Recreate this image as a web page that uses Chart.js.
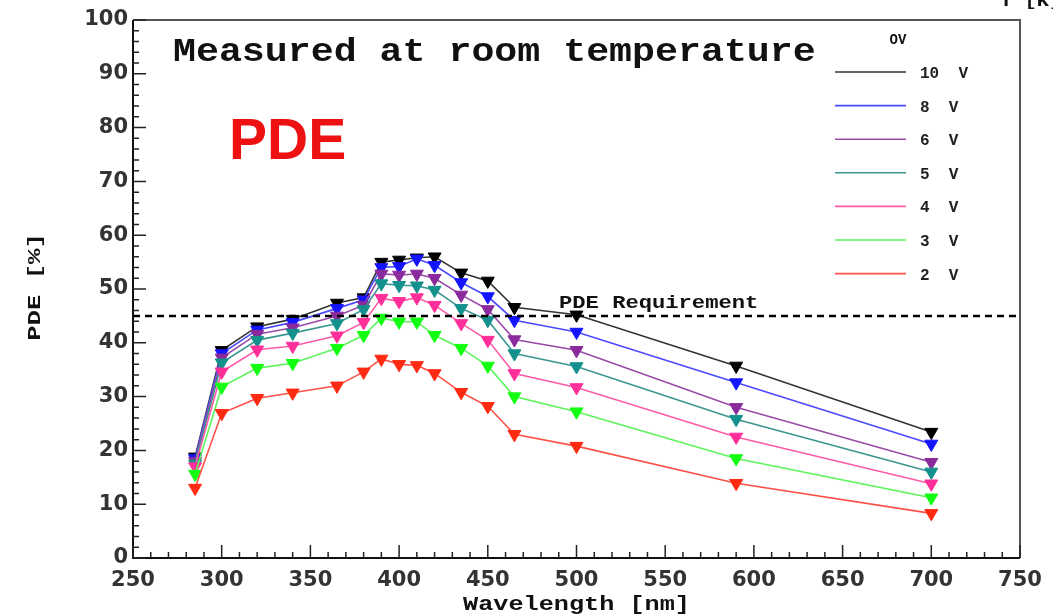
<!DOCTYPE html>
<html>
<head>
<meta charset="utf-8">
<title>PDE vs wavelength</title>
<script src="https://cdn.jsdelivr.net/npm/chart.js@4.4.1/dist/chart.umd.min.js"></script>
<style>
  html, body { margin: 0; padding: 0; background: #fff; }
  #wrap { width: 1053px; height: 615px; }
</style>
</head>
<body>
<div id="wrap"><canvas id="pdeChart" width="1053" height="615"></canvas></div>
<script>
// === Data ===
const wavelengths = [285, 300, 320, 340, 365, 380, 390, 400, 410, 420, 435, 450, 465, 500, 590, 700];

const pde10V = [18.8, 38.6, 43.0, 44.4, 47.4, 48.4, 55.0, 55.4, 55.8, 56.0, 53.0, 51.5, 46.6, 45.2, 35.7, 23.4];
const pde8V  = [18.5, 38.0, 42.4, 43.8, 46.4, 48.0, 54.0, 54.2, 55.6, 54.4, 51.2, 48.6, 44.2, 42.0, 32.6, 21.2];
const pde6V  = [18.0, 37.2, 41.6, 42.8, 45.0, 47.0, 52.8, 52.6, 52.8, 52.0, 48.9, 46.2, 40.6, 38.6, 28.0, 17.8];
const pde5V  = [17.5, 36.3, 40.5, 41.8, 43.6, 46.2, 51.0, 50.7, 50.6, 49.8, 46.4, 44.2, 38.0, 35.6, 25.8, 16.0];
const pde4V  = [17.0, 34.6, 38.7, 39.4, 41.3, 43.8, 48.3, 47.7, 48.4, 47.0, 43.6, 40.5, 34.3, 31.7, 22.5, 13.8];
const pde3V  = [15.6, 31.8, 35.3, 36.2, 39.0, 41.4, 44.6, 43.9, 43.9, 41.4, 39.0, 35.7, 30.0, 27.2, 18.5, 11.2];
const pde2V  = [13.0, 26.9, 29.7, 30.7, 32.0, 34.6, 37.0, 36.0, 35.8, 34.3, 30.8, 28.2, 23.0, 20.8, 13.9, 8.3];

const overVoltages = ["10 V", "8 V", "6 V", "5 V", "4 V", "3 V", "2 V"];
const seriesValues = [pde10V, pde8V, pde6V, pde5V, pde4V, pde3V, pde2V];

const requirementX = [250, 750];
const requirementY = [45, 45];

const xTicks = [250, 300, 350, 400, 450, 500, 550, 600, 650, 700, 750];
const yTicks = [0, 10, 20, 30, 40, 50, 60, 70, 80, 90, 100];

// ROOT-ish colours: marker / line
const markerColors = ["#000000", "#1414ff", "#8a2a9c", "#14918c", "#ff2f9a", "#12ff12", "#ff2a12"];
const lineColors   = ["#333333", "#4a4aff", "#9a4aa8", "#3a9690", "#ff5aa8", "#5cf55c", "#ff5048"];

const MONO = "'Liberation Mono', 'DejaVu Sans Mono', monospace";

// === Build datasets ===
const datasets = seriesValues.map((vals, i) => ({
  label: overVoltages[i],
  data: wavelengths.map((w, k) => ({ x: w, y: vals[k] })),
  borderColor: lineColors[i],
  backgroundColor: markerColors[i],
  pointBackgroundColor: markerColors[i],
  pointBorderColor: markerColors[i],
  borderWidth: 1.6,
  pointStyle: "triangle",
  pointRotation: 180,
  pointRadius: 7.5,
  pointBorderWidth: 1,
  tension: 0,
  order: seriesValues.length - i
}));

datasets.push({
  label: "PDE Requirement",
  data: requirementX.map((x, k) => ({ x, y: requirementY[k] })),
  borderColor: "#000",
  borderWidth: 2.5,
  borderDash: [7, 5],
  pointRadius: 0,
  order: 0
});

// stretched text helper (the original figure is wider than tall)
function wideText(ctx, txt, x, y, sx, rot) {
  ctx.save();
  ctx.translate(x, y);
  if (rot) ctx.rotate(rot);
  ctx.scale(sx, 1);
  ctx.fillText(txt, 0, 0);
  ctx.restore();
}

// === Frame, inner ticks, texts, legend ===
const rootDecor = {
  id: "rootDecor",
  afterDraw(chart) {
    const { ctx, chartArea: a, scales } = chart;
    const xs = scales.x, ys = scales.y;
    ctx.save();

    // frame
    ctx.strokeStyle = "#555";
    ctx.lineWidth = 2;
    ctx.beginPath();
    ctx.moveTo(a.left, a.top); ctx.lineTo(a.right, a.top); ctx.lineTo(a.right, a.bottom);
    ctx.stroke();
    ctx.strokeStyle = "#111";
    ctx.beginPath();
    ctx.moveTo(a.left, a.top); ctx.lineTo(a.left, a.bottom); ctx.lineTo(a.right, a.bottom);
    ctx.stroke();

    // inner ticks
    ctx.lineWidth = 1.5;
    ctx.strokeStyle = "#222";
    ctx.beginPath();
    for (let v = 250; v <= 750; v += 10) {
      const px = xs.getPixelForValue(v);
      const len = v % 50 === 0 ? 13 : 6;
      ctx.moveTo(px, a.bottom); ctx.lineTo(px, a.bottom - len);
    }
    for (let v = 0; v <= 100; v += 2) {
      const py = ys.getPixelForValue(v);
      const len = v % 10 === 0 ? 13 : 6;
      ctx.moveTo(a.left, py); ctx.lineTo(a.left + len, py);
    }
    ctx.stroke();

    ctx.fillStyle = "#111";
    ctx.textBaseline = "alphabetic";
    ctx.textAlign = "left";

    // big caption
    ctx.font = "bold 34px " + MONO;
    wideText(ctx, "Measured at room temperature", 173, 61, 1.125);

    // red PDE
    ctx.font = "bold 57px 'Liberation Sans', Arial, sans-serif";
    ctx.fillStyle = "#ee1111";
    ctx.fillText("PDE", 229, 159);

    // requirement label
    ctx.fillStyle = "#111";
    ctx.font = "bold 18px " + MONO;
    wideText(ctx, "PDE Requirement", 559, 308, 1.23);

    // T [K] at the top right, cut by the edge
    ctx.font = "bold 17px " + MONO;
    wideText(ctx, "T [K]", 1000, 6, 1.2);

    // axis titles
    ctx.textAlign = "center";
    ctx.font = "bold 20px " + MONO;
    wideText(ctx, "Wavelength [nm]", (a.left + a.right) / 2, 610, 1.26);
    ctx.font = "bold 19px " + MONO;
    wideText(ctx, "PDE [%]", 40, (a.top + a.bottom) / 2 - 2, 1.35, -Math.PI / 2);

    // legend
    ctx.font = "bold 14px " + MONO;
    ctx.fillText("OV", 898, 44);
    ctx.font = "bold 16px " + MONO;
    ctx.textAlign = "left";
    overVoltages.forEach((lab, i) => {
      const y = 72 + i * 33.6;
      ctx.strokeStyle = lineColors[i];
      ctx.lineWidth = 1.6;
      ctx.beginPath();
      ctx.moveTo(835, y); ctx.lineTo(906, y);
      ctx.stroke();
      ctx.fillStyle = "#222";
      ctx.fillText(lab.replace(" ", "  "), 920, y + 6);
    });

    ctx.restore();
  }
};

const tickFont = { family: "'DejaVu Sans', sans-serif", size: 21, weight: "bold" };

new Chart(document.getElementById("pdeChart").getContext("2d"), {
  type: "line",
  data: { datasets },
  plugins: [rootDecor],
  options: {
    responsive: false,
    animation: false,
    layout: { padding: { top: 20, right: 33, left: 0, bottom: 0 } },
    plugins: {
      legend: { display: false },
      tooltip: { enabled: false },
      title: { display: false }
    },
    scales: {
      x: {
        type: "linear",
        min: 250,
        max: 750,
        afterFit: s => { s.height = 57; },
        afterBuildTicks: s => { s.ticks = xTicks.map(v => ({ value: v })); },
        grid: { display: false },
        border: { display: false },
        ticks: { autoSkip: false, maxRotation: 0, minRotation: 0, padding: 2, color: "#333", font: tickFont }
      },
      y: {
        type: "linear",
        min: 0,
        max: 100,
        afterFit: s => { s.width = 133; },
        afterBuildTicks: s => { s.ticks = yTicks.map(v => ({ value: v })); },
        grid: { display: false },
        border: { display: false },
        ticks: { padding: -3, color: "#333", font: tickFont }
      }
    }
  }
});
</script>
</body>
</html>
